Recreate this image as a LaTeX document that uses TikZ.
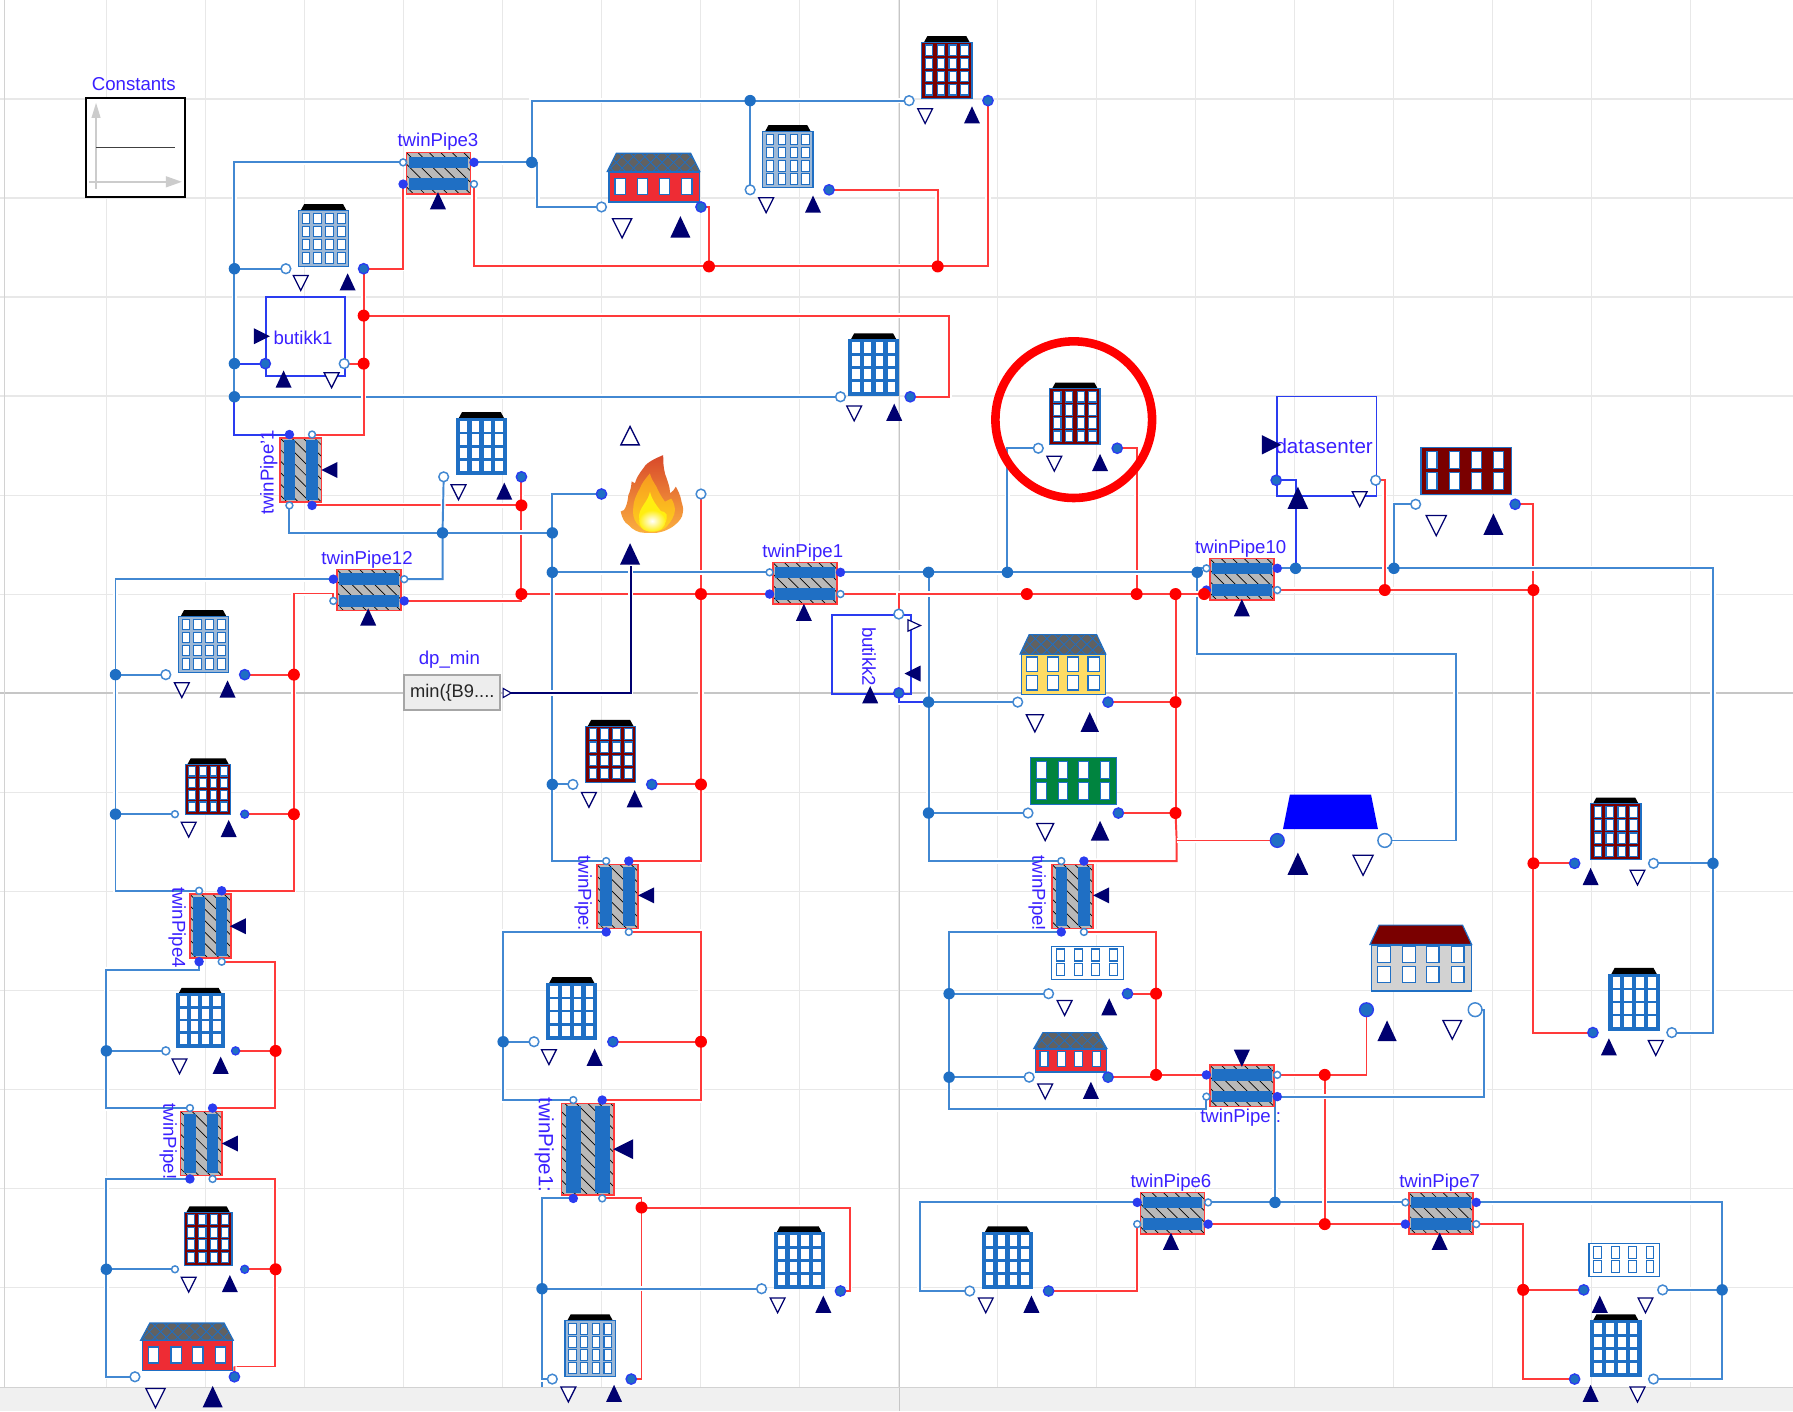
\documentclass[tikz,border=0pt]{standalone}
\usepackage{fontspec}
\setmainfont{Liberation Sans}
\usetikzlibrary{shadings}
\pgfdeclarelayer{gridl}\pgfdeclarelayer{wires}
\pgfsetlayers{gridl,wires,main}
\definecolor{wb}{HTML}{4288D2}
\definecolor{wr}{HTML}{FF3A3A}
\definecolor{dotb}{HTML}{1F6FC4}
\definecolor{brb}{HTML}{2A3CF0}
\definecolor{dotr}{HTML}{FF0000}
\definecolor{nv}{HTML}{000070}
\definecolor{lbl}{HTML}{3A20FF}
\definecolor{gridc}{HTML}{E8E8E8}
\definecolor{HOUSEM}{HTML}{7A0000}
\definecolor{lightb}{HTML}{9DB8D6}
\definecolor{fa}{HTML}{D8482A}
\definecolor{fb}{HTML}{FBB040}
\definecolor{fc}{HTML}{F58A1F}
\definecolor{fd}{HTML}{F79A1F}
\definecolor{fe}{HTML}{FFD21F}
\definecolor{ff}{HTML}{FFEE10}
\definecolor{redh}{HTML}{EE2C34}
\definecolor{yelh}{HTML}{FFDC64}
\definecolor{grnh}{HTML}{00843F}
\tikzset{
 lab/.style={font=\fontsize{16.3}{18}\selectfont,text=lbl,inner sep=0,yshift=-1.2},
 po/.style={circle,draw=wb,fill=white,line width=1.3,minimum size=8.5,inner sep=0},
 pf/.style={circle,draw=brb,fill=dotb,line width=1.2,minimum size=9,inner sep=0},
 ppo/.style={minimum size=6},
 ppf/.style={minimum size=7,fill=brb},
 jb/.style={circle,fill=dotb,minimum size=10,inner sep=0},
 jr/.style={circle,fill=dotr,minimum size=10.5,inner sep=0},
 wire/.style={line width=1.7,preaction={draw=white,line width=4.5}},
 bw/.style={wire,draw=wb},
 rw/.style={wire,draw=wr},
 bbw/.style={wire,draw=brb},
 body dark/.style={draw=dotb,fill=HOUSEM,line width=1},
 win dark/.style={draw=dotb,fill=white,line width=1},
 body light/.style={draw=dotb,fill=lightb,line width=1.2},
 win light/.style={draw=dotb,fill=white,line width=.9},
 body solid/.style={draw=dotb,fill=dotb,line width=1},
 win solid/.style={fill=white},
 box/.style={draw=brb,line width=1.5,fill=none},
}
\newcommand\pO[4][]{\coordinate (#2) at (#3,#4);\node[po,#1] (#2n) at (#2) {};}
\newcommand\pF[4][]{\coordinate (#2) at (#3,#4);\node[pf,#1] (#2n) at (#2) {};}
\newcommand\jB[3]{\coordinate (#1) at (#2,#3);\node[jb] (#1n) at (#1) {};}
\newcommand\jR[3]{\coordinate (#1) at (#2,#3);\node[jr] (#1n) at (#1) {};}
\newcommand\tU[3][1]{\fill[nv,shift={(#2,#3)},scale=#1] (-7,7)--(0,-8)--(7,7)--cycle;}
\newcommand\tD[3][1]{\filldraw[draw=nv,fill=white,line width=1.1,shift={(#2,#3)},scale=#1] (-6.5,-6)--(0,7)--(6.5,-6)--cycle;}
\newcommand\tL[3][1]{\fill[nv,shift={(#2,#3)},scale=#1] (7,-7)--(-7,0)--(7,7)--cycle;}
\newcommand\tR[3][1]{\fill[nv,shift={(#2,#3)},scale=#1] (-7,-7)--(7,0)--(-7,7)--cycle;}
\newcommand\tDf[3][1]{\fill[nv,shift={(#2,#3)},scale=#1] (-7,-7)--(0,8)--(7,-7)--cycle;}
\newcommand\tall[5][1]{%
\begin{scope}[shift={(#3,#4)},scale=#1]
 \fill[black] (-20,-22)--(-17,-27.5)--(17,-27.5)--(20,-22)--cycle;
 \node[transform shape,body #5,minimum width=44,minimum height=49,inner sep=0] (#2) at (0,2.5) {};
 \foreach \i in {-15.5,-5.2,5.2,15.5}\foreach \j in {-15,-3.5,8,19.5}
   \path[win #5] (\i-3.3,\j-4.6) rectangle (\i+3.3,\j+4.6);
\end{scope}}
\newcommand\flatb[7]{%
 \pgfmathsetmacro\fw{#4-#2}\pgfmathsetmacro\fh{#5-#3}
 \node[#6,minimum width=\fw,minimum height=\fh,inner sep=0,anchor=north west] (#1) at (#2,#3) {};
 \foreach \i in {.13,.38,.62,.87}\foreach \j in {.28,.72}
   \path[#7] (#2+\fw*\i-\fw*.055,#3+\fh*\j-\fh*.18) rectangle (#2+\fw*\i+\fw*.055,#3+\fh*\j+\fh*.18);
}
\newcommand\house[9]{%
 \pgfmathsetmacro\fw{#3-#2-2}\pgfmathsetmacro\fh{#6-#5}
 \fill[#7] (#2,#5)--(#2+8,#4)--(#3-8,#4)--(#3,#5)--cycle;
 \begin{scope}
  \clip (#2,#5)--(#2+8,#4)--(#3-8,#4)--(#3,#5)--cycle;
  \ifnum#9=1\relax
  \foreach \k in {-60,-50,...,140}{\draw[dotb,line width=.7] (#2+\k,#5)--++(30,-30);\draw[dotb,line width=.7] (#2+\k,#4)--++(30,30);}
  \fi
 \end{scope}
 \draw[dotb,line width=1] (#2,#5)--(#2+8,#4)--(#3-8,#4)--(#3,#5)--cycle;
 \node[draw=dotb,fill=#8,line width=1.1,minimum width=\fw,minimum height=\fh,inner sep=0,anchor=north west] (#1) at (#2+1,#5) {};
}
\newcommand\hwin[5]{%
 \foreach \i in {.13,.38,.62,.87}
  \draw[dotb,fill=white,line width=1.1] (#1+#2*\i-#4/2,#3-#5/2) rectangle (#1+#2*\i+#4/2,#3+#5/2);
}
\newcommand\pipebox[5]{%
 \begin{scope}
  \clip (#2-#4,#3-#5) rectangle (#2+#4,#3+#5);
  \fill[gray!55] (#2-#4,#3-#5) rectangle (#2+#4,#3+#5);
  \foreach \k in {-100,-90,...,100}\draw[black,line width=.6] (#2+\k-50,#3-50)--(#2+\k+50,#3+50);
 \end{scope}
 \node[draw=wr,line width=1.4,minimum width=2*#4,minimum height=2*#5,inner sep=0] (#1) at (#2,#3) {};
}
\newcommand\hpipe[4]{%
 \pipebox{#1}{#2}{#3}{28}{18}
 \fill[dotb] (#2-26,#3-14.5) rectangle (#2+26,#3-4.5);
 \fill[dotb] (#2-26,#3+4.5) rectangle (#2+26,#3+14.5);
 \ifnum#4=1
 \pO[ppo]{#1a}{#2-31}{#3-9.5}\pF[ppf]{#1b}{#2-31}{#3+9.5}\pF[ppf]{#1c}{#2+31}{#3-9.5}\pO[ppo]{#1d}{#2+31}{#3+9.5}
 \else
 \pF[ppf]{#1a}{#2-31}{#3-9.5}\pO[ppo]{#1b}{#2-31}{#3+9.5}\pO[ppo]{#1c}{#2+31}{#3-9.5}\pF[ppf]{#1d}{#2+31}{#3+9.5}
 \fi}
\newcommand\vpipe[6]{%
 \pipebox{#1}{#2}{#3}{#4}{#5}
 \pgfmathsetmacro\bo{#4*.55}\pgfmathsetmacro\bt{#4*.28}
 \fill[dotb] (#2-\bo-\bt,#3-#5+2) rectangle (#2-\bo+\bt,#3+#5-2);
 \fill[dotb] (#2+\bo-\bt,#3-#5+2) rectangle (#2+\bo+\bt,#3+#5-2);
 \ifnum#6=1
 \pO[ppo]{#1a}{#2-\bo}{#3-#5-3}\pF[ppf]{#1b}{#2+\bo}{#3-#5-3}\pF[ppf]{#1c}{#2-\bo}{#3+#5+3}\pO[ppo]{#1d}{#2+\bo}{#3+#5+3}
 \else
 \pF[ppf]{#1a}{#2-\bo}{#3-#5-3}\pO[ppo]{#1b}{#2+\bo}{#3-#5-3}\pO[ppo]{#1c}{#2-\bo}{#3+#5+3}\pF[ppf]{#1d}{#2+\bo}{#3+#5+3}
 \fi}
\begin{document}
\begin{tikzpicture}[x=1pt,y=-1pt]
\useasboundingbox (0,0) rectangle (1568,1234);
\begin{pgfonlayer}{gridl}
 \fill[white] (0,0) rectangle (1568,1234);
 \foreach \k in {1,...,17}\draw[gridc,line width=1.1] ({6.4+86.6*\k},0)--({6.4+86.6*\k},1213);
 \foreach \k in {1,...,13}\draw[gridc,line width=1.1] (0,{86.6*\k})--(1568,{86.6*\k});
 \draw[gray!45,line width=1.2] (0,606)--(1568,606);
 \draw[gray!45,line width=1.2] (786.6,0)--(786.6,1234);
 \draw[gray!35,line width=1.5] (4,0)--(4,1213);
 \fill[gray!12] (0,1214) rectangle (1568,1234);
 \draw[gray!35,line width=1] (0,1213.5)--(1568,1213.5);
 \draw[gray!45,line width=1.2] (786.6,1214)--(786.6,1234);
\end{pgfonlayer}
% constants
\node[lab] (lconst) at (117,72) {Constants};
\node[draw=black,line width=1.6,fill=white,minimum width=87,minimum height=86,inner sep=0] (const) at (118.5,129) {};
\fill[gray!40] (80,103)--(84,90)--(88,103)--cycle;
\draw[gray!40,line width=1.2] (84,100)--(84,165);
\draw[gray!40,line width=1.2] (78,159)--(150,159);
\fill[gray!40] (145,154)--(159,159)--(145,164)--cycle;
\draw[black!75,line width=1.2] (84,129)--(153,129);
% pipes
\hpipe{tpC}{383.5}{151.5}{1}\tU{383}{176}\node[lab] (ltpC) at (383,123) {twinPipe3};
\hpipe{tpL}{322.5}{516}{2}\tU{322}{540}\node[lab] (ltpL) at (321,488) {twinPipe12};
\hpipe{tpA}{704}{510}{1}\tU{703}{536}\node[lab] (ltpA) at (702,482) {twinPipe1};
\hpipe{tpJ}{1086}{506.5}{1}\tU{1086}{532}\node[lab] (ltpJ) at (1085,479) {twinPipe10};
\hpipe{tpH}{1086}{949.5}{2}\tDf{1086}{925}\node[lab] (ltpH) at (1085,976) {twinPipe :};
\hpipe{tpF}{1025.5}{1061}{2}\tU{1024}{1086}\node[lab] (ltpF) at (1024,1033) {twinPipe6};
\hpipe{tpG}{1260}{1061}{1}\tU{1259}{1086}\node[lab] (ltpG) at (1259,1033) {twinPipe7};
\vpipe{vK}{263}{411}{18}{28}{2}\tL{288}{411}\node[lab,rotate=90] (lvK) at (235,412) {twinPipe'1};
\vpipe{vB}{540}{784}{18}{28}{1}\tL{565}{783}\node[lab,rotate=-90] (lvB) at (510,780) {twinPipe:};
\vpipe{vE}{938}{784}{18}{28}{1}\tL{963}{783}\node[lab,rotate=-90] (lvE) at (907,780) {twinPipe!};
\vpipe{vD}{184}{810}{18}{28}{1}\tL{208}{810}\node[lab,rotate=-90] (lvD) at (155,810) {twinPipe4};
\vpipe{vM}{176}{1000}{18}{28}{1}\tL{201}{1000}\node[lab,rotate=-90] (lvM) at (147,997) {twinPipe!};
\vpipe{vN}{514}{1005}{23}{40}{1}\tL[1.25]{545}{1005}\node[lab,rotate=-90,font=\fontsize{18}{20}\selectfont] (lvN) at (476,1000) {twinPipe1:};
% tall buildings
\tall{bA}{828}{59}{dark}\pO{bAL}{795}{88}\pF{bAR}{864}{88}\tD{809}{101}\tU{850}{101}
\tall{bB}{689}{137}{light}\pO{bBL}{656}{166}\pF{bBR}{725}{166}\tD{670}{179}\tU{711}{179}
\tall{bD}{283}{206}{light}\pO{bDL}{250}{235}\pF{bDR}{318}{235}\tD{263}{247}\tU{304}{247}
\tall{bF}{764}{319}{solid}\pO{bFL}{735}{347}\pF{bFR}{796}{347}\tD{747}{361}\tU{782}{361}
\tall{bH}{421}{388}{solid}\pO{bHL}{388}{417}\pF{bHR}{456}{417}\tD{401}{430}\tU{441}{430}
\tall{bO}{940}{362}{dark}\pO{bOL}{908}{392}\pF{bOR}{977}{392}\tD{922}{405}\tU{962}{405}
\tall{bQ}{178}{561}{light}\pO{bQL}{145}{590}\pF{bQR}{214}{590}\tD{159}{603}\tU{199}{603}
\tall[.9]{bR}{182}{688}{dark}\pO[ppo]{bRL}{153}{712}\pF[minimum size=7]{bRR}{214}{712}\tD{165}{725}\tU{200}{725}
\tall{bW}{534}{657}{dark}\pO{bWL}{501}{686}\pF{bWR}{570}{686}\tD{515}{699}\tU{555}{699}
\tall{bY}{500}{882}{solid}\pO{bYL}{467}{911}\pF{bYR}{536}{911}\tD{480}{924}\tU{520}{925}
\tall{bf}{1413}{725}{dark}\pF{bfL}{1377}{755}\pO{bfR}{1446}{755}\tU{1391}{767}\tD{1432}{767}
\tall{bg}{1429}{874}{solid}\pF{bgL}{1393}{903}\pO{bgR}{1462}{903}\tU{1407}{916}\tD{1448}{916}
\tall{bj}{881}{1100}{solid}\pO{bjL}{848}{1129}\pF{bjR}{917}{1129}\tD{862}{1141}\tU{902}{1141}
\tall{bl}{1413}{1177}{solid}\pF{blL}{1377}{1206}\pO{blR}{1446}{1206}\tU{1391}{1219}\tD{1432}{1219}
\tall{bm}{699}{1100}{solid}\pO{bmL}{666}{1127}\pF{bmR}{735}{1129}\tD{680}{1141}\tU{720}{1141}
\tall{bn}{516}{1177}{light}\pO{bnL}{483}{1206}\pF{bnR}{552}{1206}\tD{497}{1219}\tU{537}{1219}
\tall[.95]{bp}{175}{890}{solid}\pO[minimum size=7]{bpL}{145}{919}\pF[minimum size=7]{bpR}{206}{919}\tD{157}{932}\tU{193}{932}
\tall[.95]{bq}{182}{1081}{dark}\pO[ppo]{bqL}{153}{1110}\pF[minimum size=7]{bqR}{214}{1110}\tD{165}{1123}\tU{201}{1123}
% houses
\house{bC}{531}{612}{134}{150}{176}{black!62}{redh}{1}
\hwin{532}{79}{163}{9}{14}\pO{bCL}{526}{181}\pF{bCR}{613}{181}\tD[1.3]{544}{199}\tU[1.25]{595}{199}
\house{br}{123}{204}{1157}{1172}{1198}{black!62}{redh}{1}
\hwin{124}{79}{1185}{9}{14}\pO{brL}{118}{1204}\pF{brR}{205}{1204}\tD[1.3]{136}{1222}\tU[1.25]{186}{1222}
\house{bb}{904}{968}{903}{917}{937}{black!62}{redh}{1}
\hwin{905}{62}{926}{7}{13}\pO{bbL}{900}{942}\pF{bbR}{969}{942}\tD{914}{954}\tU{954}{954}
\house{bT}{892}{967}{555}{572}{607}{black!62}{yelh}{1}
\hwin{893}{73}{581}{10}{13}\hwin{893}{73}{597}{10}{13}\pO{bTL}{890}{614}\pF{bTR}{969}{614}\tD[1.15]{905}{632}\tU[1.15]{953}{632}
\house{be}{1198}{1287}{809}{826}{866}{HOUSEM}{gray!35}{0}
\hwin{1199}{87}{835}{11}{14}\hwin{1199}{87}{852}{11}{14}\pF[minimum size=12]{beL}{1195}{883}\pO[minimum size=12]{beR}{1290}{883}\tU[1.2]{1213}{902}\tD[1.25]{1270}{900}
% flats
\flatb{bP}{1242}{391}{1321}{432}{draw=dotb,fill=HOUSEM,line width=1.2}{draw=dotb,fill=white,line width=1}
\pO{bPL}{1238}{441}\pF{bPR}{1325}{441}\tD[1.35]{1256}{459}\tU[1.25]{1306}{459}
\flatb{bU}{901}{662}{976}{703}{draw=dotb,fill=grnh,line width=1}{draw=dotb,fill=white,line width=.8}
\pO{bUL}{899}{711}\pF{bUR}{978}{711}\tD[1.15]{914}{727}\tU[1.15]{962}{727}
\flatb{bc}{919}{827}{982}{856}{draw=dotb,fill=white,line width=1.1}{draw=dotb,fill=white,line width=1}
\pO{bcL}{917}{869}\pF{bcR}{986}{869}\tD{931}{881}\tU{970}{881}
\flatb{bk}{1389}{1087}{1451}{1116}{draw=dotb,fill=white,line width=1.1}{draw=dotb,fill=white,line width=1}
\pF{bkL}{1385}{1128}\pO{bkR}{1454}{1128}\tU{1399}{1141}\tD{1439}{1141}
% trapezoid
\fill[blue] (1122,725)--(1205,725)--(1199,695)--(1128,695)--cycle;
\pF[minimum size=12]{bVL}{1117}{735}\pO[minimum size=12]{bVR}{1211}{735}\tU[1.3]{1135}{756}\tD[1.35]{1192}{756}
% boxes
\node[box,minimum width=69,minimum height=69,inner sep=0,anchor=north west] (but1) at (232,259) {};
\node[lab] (lbut1) at (265,294) {butikk1};
\tR{229}{294}\pF{but1L}{232}{318}\pO{but1R}{301}{318}\tU{248}{332}\tD{290}{332}
\node[box,minimum width=87,minimum height=87,inner sep=0,anchor=north west] (dat) at (1116,346) {};
\node[lab,font=\fontsize{18}{20}\selectfont] (ldat) at (1158,389) {datasenter};
\tR[1.2]{1112}{389}\pF{datL}{1116}{420}\pO{datR}{1203}{420}\tU[1.3]{1135}{436}\tD{1189}{436}
\node[box,minimum width=69,minimum height=69,inner sep=0,anchor=north west] (but2) at (727,537) {};
\node[lab,rotate=-90] (lbut2) at (760,573) {butikk2};
\pO{but2T}{786}{537}\pF{but2B}{786}{606}\tL{798}{589}\tU{761}{608}
\filldraw[draw=nv,fill=white,line width=1] (794,542)--(805,547)--(794,552)--cycle;
% flame
\shade[top color=fa,middle color=fc,bottom color=fb] (580,398) .. controls (570,402) and (564,406) .. (562.6,409.5) .. controls (559,414) and (556,419) .. (555.3,422.6) -- (552.4,421) .. controls (552,426) and (551,430) .. (549.5,433) .. controls (549,438) and (548,443) .. (545.7,446) -- (542.8,447.4) .. controls (544,453) and (546,457) .. (549.5,459) .. controls (553,463) and (558,466) .. (564,466) -- (574,466) .. controls (581,465) and (587,462) .. (590.3,459) .. controls (594,456) and (597,452) .. (597,449) .. controls (598,445) and (597,442) .. (596,438.7) .. controls (595,433) and (593,429) .. (591,425.6) .. controls (590,428) and (588,430) .. (586,431.4) .. controls (586,425) and (583,419) .. (581.5,414) .. controls (580,408) and (580,403) .. (580,398) -- cycle;
\shade[top color=fd,bottom color=fe] (568.4,414) .. controls (564,419) and (561,423) .. (559.7,427) .. controls (556,433) and (554,439) .. (553.9,443) .. controls (553,449) and (554,454) .. (556.8,457.6) .. controls (560,462) and (565,465) .. (570,465) .. controls (576,465) and (581,463) .. (583,460.5) .. controls (587,456) and (590,451) .. (590.3,446) .. controls (590,442) and (589,439) .. (587,436) -- (581.5,438.7) .. controls (578,434) and (576,430) .. (574,425.6) .. controls (572,422) and (569,418) .. (568.4,414) -- cycle;
\fill[ff] (568.4,430) .. controls (567,438) and (560,443) .. (559,450) .. controls (558,457) and (563,464) .. (570,464) .. controls (578,464) and (584,458) .. (583,450) .. controls (582,448) and (580,447) .. (578,447) .. controls (574,442) and (570,437) .. (568.4,430) -- cycle;
\shade[inner color=white,outer color=ff] (570,465) .. controls (562,465) and (558.5,460) .. (559,455) .. controls (560,449) and (565,446) .. (570,446) .. controls (575,446) and (581,449) .. (582,455) .. controls (582,461) and (578,465) .. (570,465) -- cycle;
\pF{fL}{526}{432}\pO{fR}{613}{432}
\filldraw[draw=nv,fill=white,line width=1.2] (543,389)--(551,373)--(559,389)--cycle;
\tU[1.25]{551}{485}
% dp_min
\node[lab] (ldp) at (393,576) {dp\_min};
\node[draw=gray!70,fill=gray!14,line width=1.8,minimum width=84,minimum height=30,inner sep=0,font=\fontsize{16}{18}\selectfont,text=black!85] (dp) at (395.5,605.5) {min(\{B9....};
\coordinate (dpO) at (443,606);
\coordinate (dpT) at (551.5,495);
\filldraw[draw=nv,fill=white,line width=1] (440,602)--(447,606)--(440,610)--cycle;
% red circle
\node[draw=red,line width=7.5,circle,minimum size=137,inner sep=0] (ring) at (939,367) {};
% junctions
\jB{ja1}{205}{235}\jB{ja2}{205}{318}\jB{ja3}{205}{347}
\jB{jb1}{465}{142}\jB{jb2}{656}{88}
\jB{jc1}{812}{500.5}\jB{jc2}{881}{500.5}\jB{jc3}{1047}{500.5}\jB{jc4}{1133}{497}\jB{jc5}{1219}{497}
\jB{jd1}{387}{466}\jB{jd2}{483}{466}\jB{jd3}{483}{500.5}\jB{jd4}{483}{686}
\jB{je1}{812}{614}\jB{je2}{812}{711}
\jB{jf1}{440}{911}\jB{jg1}{474}{1127}
\jB{jh1}{1498}{755}\jB{ji1}{830}{869}\jB{ji2}{830}{942}
\jB{jk1}{1115}{1051.5}\jB{jl1}{1506}{1128}
\jB{jm1}{101}{590}\jB{jm2}{101}{712}\jB{jn1}{93}{919}\jB{jn2}{93}{1110}
\jR{ka1}{620}{233}\jR{ka2}{820}{233}\jR{kb1}{318}{276}\jR{kb2}{318}{318}
\jR{kc1}{456}{442}\jR{kc2}{456}{519.5}\jR{kc3}{613}{519.5}\jR{kc4}{613}{686}
\jR{kd1}{898}{519.5}\jR{kd2}{994}{519.5}\jR{kd3}{1028}{519.5}\jR{kd4}{1053}{519.5}
\jR{ke1}{1028}{614}\jR{ke2}{1028}{711}
\jR{kf1}{1211}{516}\jR{kf2}{1341}{516}\jR{kf3}{1341}{755}
\jR{kg1}{613}{911}\jR{kh1}{561}{1056}
\jR{ki1}{1011}{869}\jR{ki2}{1011}{940}
\jR{kj1}{1158.5}{940}\jR{kj2}{1158.5}{1070.5}
\jR{kk1}{1332}{1128}
\jR{kl1}{257}{590}\jR{kl2}{257}{712}\jR{km1}{241}{919}\jR{km2}{241}{1110}
% bends
\coordinate (cbC) at (470,142);
\coordinate (cS) at (1273,572);
\coordinate (cdE) at (1298,959);\coordinate (ctH) at (1115,959);
\coordinate (cTop) at (864,233);
\coordinate (cqq) at (257,519);
\coordinate (cA) at (786,519.5);
\begin{pgfonlayer}{wires}
% general red wires
\draw[rw] (tpCd) |- (ka1) -- (ka2) -- (cTop) -- (bAR);
\draw[rw] (bCR) -| (ka1);
\draw[rw] (ka2) |- (bBR);
\draw[rw] (kb1) -- ++(512,0) coordinate (cF) |- (bFR);
\draw[rw] (vKd) -- (kc1);
\draw[rw] (bHR) -- (kc1) -- (kc2);
\draw[rw] (tpLd) -| (kc2);
\draw[rw] (kc2) -- (kc3) -- (tpAb);
\draw[rw] (fR) -- (kc3) -- (kc4) -- ++(0,67) coordinate (cvB) -- (vBb);
\draw[rw] (kc4) -- (bWR);
\draw[rw] (vBd) -| (kg1) -- ++(0,51) coordinate (cvN) -- (vNb);
\draw[rw] (kg1) -- (bYR);
\draw[rw] (vNd) -| (kh1) |- (bnR);
\draw[rw] (kh1) -- ++(182,0) coordinate (cbm) |- (bmR);
\draw[rw] (bOR) -| (kd2);
\draw[rw] (kd3) -- (ke1) -- (ke2);
\draw[rw] (bTR) -- (ke1);
\draw[rw] (bUR) -- (ke2);
\draw[rw] (ke2) -- ++(1,24) coordinate (cvE) -- ++(0,18) coordinate (cvE2) -- (vEb);
\draw[rw] (cvE) -- (bVL);
\draw[rw] (bPR) -| (kf2);
\draw[rw] (kf2) -- (kf3) |- (bgL);
\draw[rw] (kf3) -- (bfL);
\draw[rw] (vEd) -| (ki1) -- (ki2);
\draw[rw] (bcR) -- (ki1);
\draw[rw] (bbR) -| (ki2);
\draw[rw] (ki2) -- (tpHa);
\draw[rw] (tpFb) |- (bjR);
\draw[rw] (tpFd) -- (kj2) -- (tpGb);
\draw[rw] (tpGd) -| (kk1) |- (blL);
\draw[rw] (kk1) -- (bkL);
\draw[rw] (tpLb) |- (cqq) -- (kl1) -- (kl2) |- (vDb);
\draw[rw] (bQR) -- (kl1);
\draw[rw] (bRR) -- (kl2);
\draw[rw] (vDd) -- ++(47,0) coordinate (cvD) -- ++(0,128) coordinate (cvD2) -- (vMb);
\draw[rw] (bpR) -- (km1);
\draw[rw] (vMd) -- ++(55,0) coordinate (cvM) -- ++(0,164) coordinate (cvM2) -- ++(-36,0) coordinate (cbr);
\draw[rw] (cbr) -- (brR);
\draw[rw] (bqR) -- (km2);
\draw[rw] (tpCb) |- (bDR);
\draw[rw] (but1R) -- (kb2);
% blue wires
\draw[bw] (tpCa) -| (ja3);
\draw[bbw] (ja3) |- (vKa);
\draw[bw] (ja1) -- (bDL);
\draw[bbw] (ja2) -- (but1L);
\draw[bw] (ja3) -- (bFL);
\draw[bw] (tpCc) -- (jb1) |- (bAL);
\draw[bw] (jb2) -- (bBL);
\draw[bw] (cbC) |- (bCL);
\draw[bw] (vKc) |- (jd1) -- (jd2);
\draw[bw] (bHL) -- (jd1) |- (tpLc);
\draw[bw] (fL) -| (jd2) -- (jd3) -- (jd4);
\draw[bw] (jd4) -- ++(0,67) coordinate (cjd) -- (vBa);
\draw[bw] (jd4) -- (bWL);
\draw[bw] (jd3) -- (tpAa);
\draw[bw] (vBc) -| (jf1) |- (vNa);
\draw[bw] (jf1) -- (bYL);
\draw[bw] (vNc) -| (jg1) -- ++(0,86) coordinate (cjg);
\draw[bw] (jg1) -- (bmL);
\draw[bw] (jg1) |- (bnL);
\draw[bw] (tpAc) -- (jc1) -- (jc2) -- (jc3) |- (tpJa);
\draw[bw] (jc2) |- (bOL);
\draw[bw] (jc1) -- (je1) -- (je2);
\draw[bw] (je1) -- (bTL);
\draw[bw] (je2) -- (bUL);
\draw[bw] (je2) |- (vEa);
\draw[bbw] (but2B) |- (je1);
\draw[bw] (jc3) |- (cS) |- (bVR);
\draw[bw] (tpJc) -- (jc4) -- (jc5) -- ++(279,0) coordinate (cR) -- ++(0,406) coordinate (cR2) -- (bgR);
\draw[bw] (jc5) |- (bPL);
\draw[bbw] (datL) -| (jc4);
\draw[bw] (bfR) -- (jh1);
\draw[bw] (vEc) -| (ji1) -- (ji2) -- ++(0,28) coordinate (cji) -| (tpHb);
\draw[bw] (ji1) -- (bcL);
\draw[bw] (ji2) -- (bbL);
\draw[bw] (tpFc) -- (jk1) -- (tpGa);
\draw[bw] (tpFa) -- ++(-190,0) coordinate (cjj) |- (bjL);
\draw[bw] (tpGc) -- ++(215,0) coordinate (cll) |- (blR);
\draw[bw] (jl1) -- (bkR);
\draw[bw] (tpLa) -| (jm1) -- (jm2) |- (vDa);
\draw[bw] (jm1) -- (bQL);
\draw[bw] (jm2) -- (bRL);
\draw[bw] (vDc) -- ++(0,7) coordinate (cnn) -| (jn1) |- (vMa);
\draw[bw] (jn1) -- (bpL);
\draw[bw] (vMc) -| (jn2) |- (brL);
\draw[bw] (jn2) -- (bqL);
% red wires that lie over blue
\draw[rw] (bDR) |- (vKb);
\draw[rw] (tpAd) -- (cA);
\draw[rw] (but2T) |- (kd1) -- (kd2) -- (kd3) -- (kd4) |- (tpJb);
\draw[rw] (tpJd) -- (kf1) -- (kf2);
\draw[rw] (kf1) |- (datR);
\draw[rw] (tpHc) -- (kj1) -| (beL);
\draw[rw] (kj1) -- (kj2);
\draw[bw] (tpHd) -- (cdE) |- (beR);
\draw[bw] (ctH) -- (jk1);
\draw[wire,draw=nv] (dpO) -| (dpT);
\end{pgfonlayer}
\end{tikzpicture}
\end{document}
